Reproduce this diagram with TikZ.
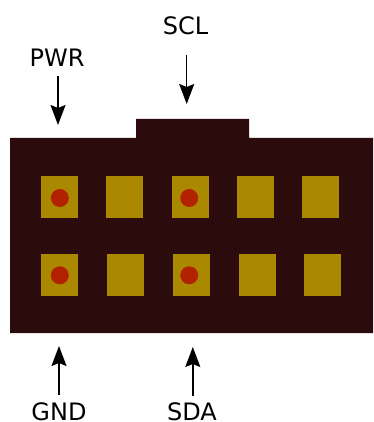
\documentclass[tikz,border=0pt]{standalone}
\usepackage{fontspec}
\setmainfont{DejaVu Sans}
\usetikzlibrary{arrows.meta}
\definecolor{housing}{HTML}{2B0B0C}
\definecolor{padcol}{HTML}{AA8800}
\definecolor{pincol}{HTML}{B32200}
\tikzset{
  x=1pt,y=-1pt,
  padbox/.style={fill=padcol,draw=none,inner sep=0pt,minimum width=37pt,minimum height=42pt},
  pindot/.style={circle,fill=pincol,draw=none,inner sep=0pt,minimum size=18pt},
  pinlabel/.style={font=\fontsize{24}{28}\selectfont,inner sep=0pt,anchor=base,text=black},
  callout/.style={draw=black,line width=1.5pt,-{Stealth[length=20pt,width=15pt,inset=3pt]}}
}
\begin{document}
\begin{tikzpicture}
\useasboundingbox (0,0) rectangle (373,422);
\fill[housing] (10,138) -- (136,138) -- (136,119) -- (249,119) -- (249,138) -- (373,138) -- (373,333) -- (10,333) -- cycle;
\node[padbox] (t1) at (59.5,197) {};
\node[padbox] (t2) at (124.5,197) {};
\node[padbox] (t3) at (190.5,197) {};
\node[padbox] (t4) at (255.5,197) {};
\node[padbox] (t5) at (320.5,197) {};
\node[padbox] (b1) at (59.5,275) {};
\node[padbox] (b2) at (125.5,275) {};
\node[padbox] (b3) at (191.5,275) {};
\node[padbox] (b4) at (257.5,275) {};
\node[padbox] (b5) at (322.5,275) {};
\node[pindot] (d1) at (59.8,198) {};
\node[pindot] (d2) at (189.2,198) {};
\node[pindot] (d3) at (59.8,275.3) {};
\node[pindot] (d4) at (189.2,275.3) {};
\node[pinlabel] (pwr) at (57,67) {PWR};
\node[pinlabel] (scl) at (185.5,35) {SCL};
\node[pinlabel] (gnd) at (59,420.5) {GND};
\node[pinlabel] (sda) at (192,420.5) {SDA};
\coordinate (pwrtail) at (58,76);
\coordinate (pwrtip) at (58,125);
\coordinate (scltail) at (186.7,55);
\coordinate (scltip) at (186.7,104);
\coordinate (gndtail) at (59,395);
\coordinate (gndtip) at (59,346);
\coordinate (sdatail) at (192.8,396);
\coordinate (sdatip) at (192.8,347);
\draw[callout] (pwrtail) -- (pwrtip);
\draw[callout] (scltail) -- (scltip);
\draw[callout] (gndtail) -- (gndtip);
\draw[callout] (sdatail) -- (sdatip);
\end{tikzpicture}
\end{document}
